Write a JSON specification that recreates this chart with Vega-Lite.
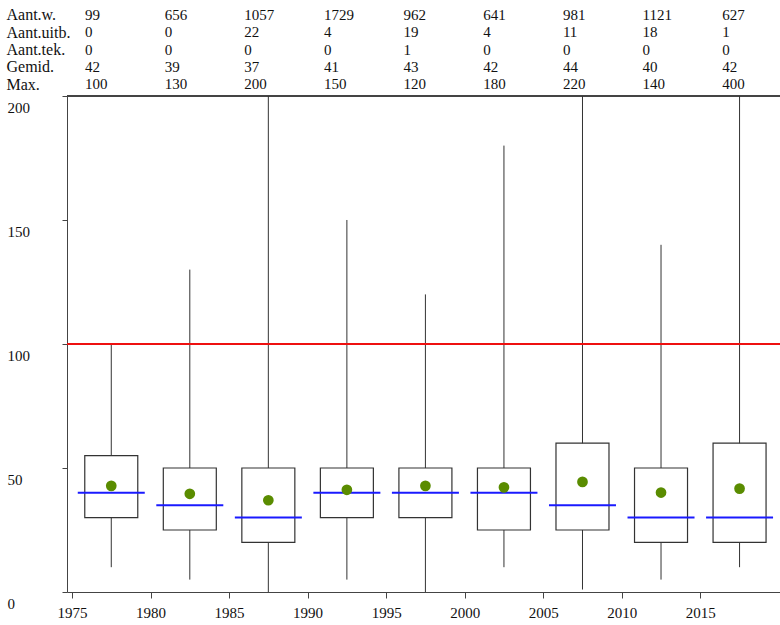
{
  "$schema": "https://vega.github.io/schema/vega-lite/v6.json",
  "padding": {"left": 6, "top": 6, "right": 0, "bottom": 0},
  "background": "white",
  "spacing": 3,
  "bounds": "flush",
  "config": {
    "view": {"stroke": null},
    "font": "Liberation Serif",
    "axis": {"labelFont": "Liberation Serif", "labelColor": "#111", "domainColor": "#444", "tickColor": "#444", "grid": false, "title": null}
  },
  "datasets": {
    "stats": [
      {"period": "1975-1980", "mid": 1977.5, "min": 10, "q1": 30, "median": 40, "q3": 55, "max": 100, "mean": 42.8},
      {"period": "1980-1985", "mid": 1982.5, "min": 5, "q1": 25, "median": 35, "q3": 50, "max": 130, "mean": 39.6},
      {"period": "1985-1990", "mid": 1987.5, "min": 0, "q1": 20, "median": 30, "q3": 50, "max": 200, "mean": 37.0},
      {"period": "1990-1995", "mid": 1992.5, "min": 5, "q1": 30, "median": 40, "q3": 50, "max": 150, "mean": 41.2},
      {"period": "1995-2000", "mid": 1997.5, "min": 0, "q1": 30, "median": 40, "q3": 50, "max": 120, "mean": 42.8},
      {"period": "2000-2005", "mid": 2002.5, "min": 10, "q1": 25, "median": 40, "q3": 50, "max": 180, "mean": 42.2},
      {"period": "2005-2010", "mid": 2007.5, "min": 1, "q1": 25, "median": 35, "q3": 60, "max": 220, "mean": 44.4},
      {"period": "2010-2015", "mid": 2012.5, "min": 5, "q1": 20, "median": 30, "q3": 50, "max": 140, "mean": 40.1},
      {"period": "2015-2020", "mid": 2017.5, "min": 10, "q1": 20, "median": 30, "q3": 60, "max": 400, "mean": 41.7}
    ],
    "table": [
      {"start": 1975, "row": "Aant.w.", "value": 99},
      {"start": 1980, "row": "Aant.w.", "value": 656},
      {"start": 1985, "row": "Aant.w.", "value": 1057},
      {"start": 1990, "row": "Aant.w.", "value": 1729},
      {"start": 1995, "row": "Aant.w.", "value": 962},
      {"start": 2000, "row": "Aant.w.", "value": 641},
      {"start": 2005, "row": "Aant.w.", "value": 981},
      {"start": 2010, "row": "Aant.w.", "value": 1121},
      {"start": 2015, "row": "Aant.w.", "value": 627},
      {"start": 1975, "row": "Aant.uitb.", "value": 0},
      {"start": 1980, "row": "Aant.uitb.", "value": 0},
      {"start": 1985, "row": "Aant.uitb.", "value": 22},
      {"start": 1990, "row": "Aant.uitb.", "value": 4},
      {"start": 1995, "row": "Aant.uitb.", "value": 19},
      {"start": 2000, "row": "Aant.uitb.", "value": 4},
      {"start": 2005, "row": "Aant.uitb.", "value": 11},
      {"start": 2010, "row": "Aant.uitb.", "value": 18},
      {"start": 2015, "row": "Aant.uitb.", "value": 1},
      {"start": 1975, "row": "Aant.tek.", "value": 0},
      {"start": 1980, "row": "Aant.tek.", "value": 0},
      {"start": 1985, "row": "Aant.tek.", "value": 0},
      {"start": 1990, "row": "Aant.tek.", "value": 0},
      {"start": 1995, "row": "Aant.tek.", "value": 1},
      {"start": 2000, "row": "Aant.tek.", "value": 0},
      {"start": 2005, "row": "Aant.tek.", "value": 0},
      {"start": 2010, "row": "Aant.tek.", "value": 0},
      {"start": 2015, "row": "Aant.tek.", "value": 0},
      {"start": 1975, "row": "Gemid.", "value": 42},
      {"start": 1980, "row": "Gemid.", "value": 39},
      {"start": 1985, "row": "Gemid.", "value": 37},
      {"start": 1990, "row": "Gemid.", "value": 41},
      {"start": 1995, "row": "Gemid.", "value": 43},
      {"start": 2000, "row": "Gemid.", "value": 42},
      {"start": 2005, "row": "Gemid.", "value": 44},
      {"start": 2010, "row": "Gemid.", "value": 40},
      {"start": 2015, "row": "Gemid.", "value": 42},
      {"start": 1975, "row": "Max.", "value": 100},
      {"start": 1980, "row": "Max.", "value": 130},
      {"start": 1985, "row": "Max.", "value": 200},
      {"start": 1990, "row": "Max.", "value": 150},
      {"start": 1995, "row": "Max.", "value": 120},
      {"start": 2000, "row": "Max.", "value": 180},
      {"start": 2005, "row": "Max.", "value": 220},
      {"start": 2010, "row": "Max.", "value": 140},
      {"start": 2015, "row": "Max.", "value": 400}
    ]
  },
  "vconcat": [
    {
      "width": 714,
      "height": 87,
      "data": {"name": "table"},
      "mark": {"type": "text", "align": "left", "baseline": "middle", "dx": 18, "font": "Liberation Serif", "fontSize": 15, "color": "#111"},
      "encoding": {
        "x": {"field": "start", "type": "quantitative", "scale": {"domain": [1975, 2019.82], "nice": false, "zero": false}, "axis": null},
        "y": {"field": "row", "type": "nominal", "sort": ["Aant.w.", "Aant.uitb.", "Aant.tek.", "Gemid.", "Max."], "scale": {"type": "point", "padding": 0.5},
              "axis": {"domain": false, "ticks": false, "tickSize": 0, "labelPadding": 61, "labelAlign": "left", "labelFontSize": 16, "labelBaseline": "middle"}},
        "text": {"field": "value", "type": "quantitative"}
      }
    },
    {
      "width": 714,
      "height": 496,
      "data": {"name": "stats"},
      "encoding": {
        "x": {"field": "mid", "type": "quantitative", "scale": {"domain": [1975, 2019.82], "nice": false, "zero": false},
              "axis": {"values": [1975, 1980, 1985, 1990, 1995, 2000, 2005, 2010, 2015], "format": "d", "tickSize": 6, "labelPadding": 7, "labelFontSize": 15, "labelFlush": false, "labelOverlap": false}}
      },
      "layer": [
        {
          "mark": {"type": "rule", "color": "#444", "strokeWidth": 1},
          "encoding": {"x": {"value": 0}, "x2": {"value": 714}, "y": {"datum": 200, "type": "quantitative"}}
        },
        {
          "mark": {"type": "rule", "color": "#333", "strokeWidth": 1},
          "encoding": {
            "y": {"field": "min", "type": "quantitative", "scale": {"domain": [0, 200], "nice": false, "clamp": true},
                  "axis": {"values": [0, 50, 100, 150, 200], "tickSize": 5, "labelPadding": 55, "labelAlign": "left", "labelBaseline": "middle", "labelOffset": 11, "labelFontSize": 15, "labelOverlap": false}},
            "y2": {"field": "max"}
          }
        },
        {
          "mark": {"type": "rule", "color": "#ee1111", "strokeWidth": 1.5},
          "encoding": {"x": {"value": 0}, "x2": {"value": 714}, "y": {"datum": 100, "type": "quantitative"}}
        },
        {
          "mark": {"type": "bar", "size": 53, "fill": "white", "stroke": "#333", "strokeWidth": 1.2},
          "encoding": {"y": {"field": "q1", "type": "quantitative"}, "y2": {"field": "q3"}}
        },
        {
          "mark": {"type": "tick", "orient": "horizontal", "size": 67, "thickness": 2, "color": "#1a1aff", "opacity": 1},
          "encoding": {"y": {"field": "median", "type": "quantitative"}}
        },
        {
          "mark": {"type": "point", "filled": true, "size": 115, "color": "#5a8c00", "opacity": 1},
          "encoding": {"y": {"field": "mean", "type": "quantitative"}}
        }
      ]
    }
  ]
}
